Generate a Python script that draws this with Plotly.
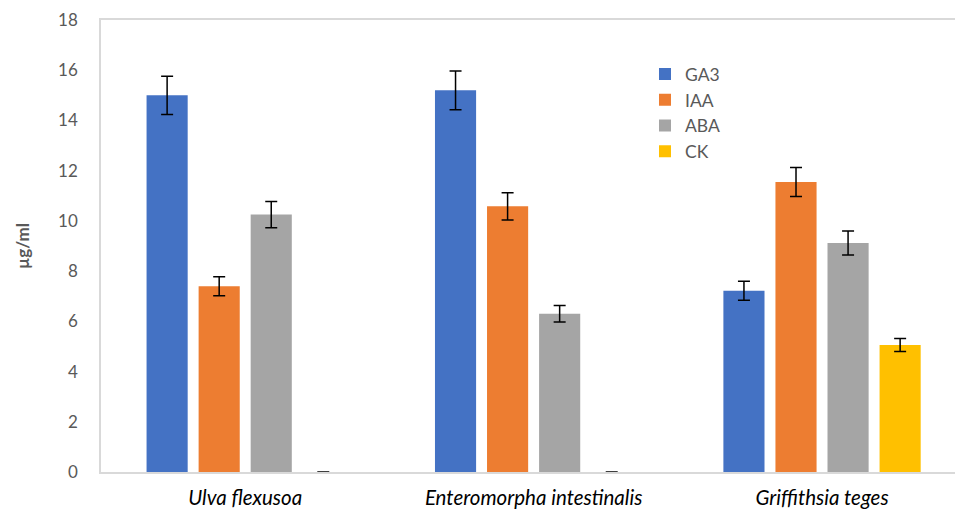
import plotly.graph_objects as go

# Species (x categories) and hormone series
species = ["Ulva flexusoa", "Enteromorpha intestinalis", "Griffithsia teges"]
species_labels = ["<i>" + s + "</i>" for s in species]

ga3 = [15.0, 15.2, 7.22]
ga3_err = [0.76, 0.77, 0.38]
iaa = [7.4, 10.58, 11.55]
iaa_err = [0.38, 0.54, 0.58]
aba = [10.25, 6.3, 9.12]
aba_err = [0.52, 0.33, 0.48]
ck = [0.0, 0.0, 5.06]
ck_err = [0.0, 0.0, 0.26]

y_ticks = [0, 2, 4, 6, 8, 10, 12, 14, 16, 18]

series = [
    ("GA3", ga3, ga3_err, "#4472C4"),
    ("IAA", iaa, iaa_err, "#ED7D31"),
    ("ABA", aba, aba_err, "#A5A5A5"),
    ("CK", ck, ck_err, "#FFC000"),
]

FONT = "Lato, 'Open Sans', sans-serif"

fig = go.Figure()
for name, vals, errs, color in series:
    fig.add_trace(go.Bar(
        name=name,
        x=species_labels,
        y=vals,
        marker=dict(color=color, line=dict(width=0)),
        error_y=dict(type="data", array=errs, visible=True,
                     color="#000000", thickness=1.5, width=6),
    ))

fig.update_layout(
    width=955,
    height=510,
    margin=dict(l=101, r=0, t=20, b=38),
    paper_bgcolor="white",
    plot_bgcolor="white",
    barmode="group",
    bargap=0.278,
    bargroupgap=0.21,
    font=dict(family=FONT, size=16, color="#595959"),
    showlegend=True,
    legend=dict(
        x=0.637, y=0.92, xanchor="left", yanchor="top",
        bgcolor="rgba(0,0,0,0)",
        font=dict(family=FONT, size=17.5, color="#595959"),
        itemwidth=30,
        tracegroupgap=0,
    ),
    xaxis=dict(
        type="category",
        range=[-0.5, 2.461],
        showgrid=False,
        showline=True,
        linecolor="#D9D9D9",
        linewidth=1.5,
        mirror=True,
        ticks="",
        tickfont=dict(family=FONT, size=20.5, color="#000000"),
        ticklabelstandoff=7,
        fixedrange=True,
    ),
    yaxis=dict(
        range=[0, 18],
        tickvals=y_ticks,
        showgrid=False,
        zeroline=False,
        showline=True,
        linecolor="#D9D9D9",
        linewidth=1.5,
        ticks="",
        ticklabelstandoff=18,
        tickfont=dict(family=FONT, size=17, color="#595959"),
        title=dict(text="<b>µg/ml</b>", font=dict(family=FONT, size=17, color="#595959"),
                   standoff=24),
    ),
)

fig.write_html("out.html")
